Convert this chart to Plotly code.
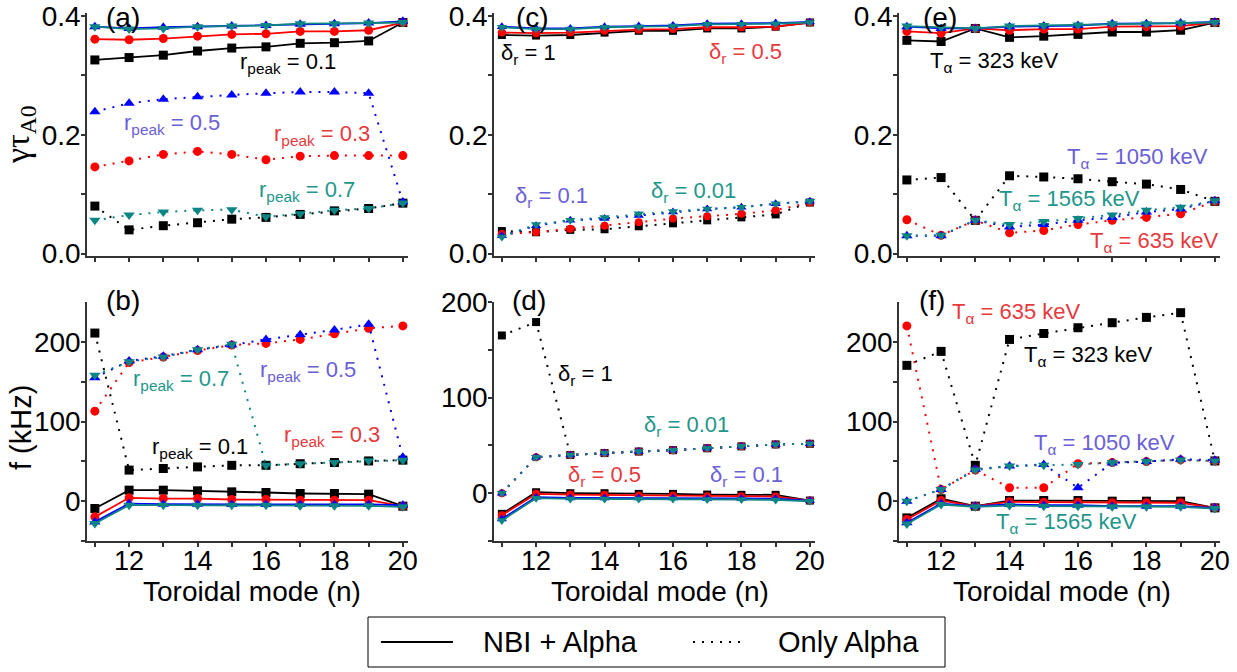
import plotly.graph_objects as go

# ---------------- data ----------------
n = list(range(11, 21))

# (a) growth rate vs r_peak
a_nbi_black = [0.326, 0.330, 0.334, 0.341, 0.346, 0.348, 0.354, 0.355, 0.358, 0.389]
a_nbi_red = [0.361, 0.360, 0.362, 0.366, 0.369, 0.370, 0.374, 0.374, 0.376, 0.389]
a_nbi_blue = [0.382, 0.379, 0.381, 0.382, 0.383, 0.384, 0.386, 0.387, 0.388, 0.391]
a_nbi_teal = [0.382, 0.378, 0.379, 0.382, 0.383, 0.384, 0.387, 0.387, 0.388, 0.389]
a_alp_black = [0.080, 0.040, 0.047, 0.052, 0.058, 0.061, 0.066, 0.072, 0.076, 0.085]
a_alp_red = [0.146, 0.156, 0.167, 0.172, 0.167, 0.158, 0.164, 0.165, 0.165, 0.165]
a_alp_blue = [0.239, 0.253, 0.260, 0.264, 0.267, 0.270, 0.272, 0.272, 0.270, 0.087]
a_alp_teal = [0.056, 0.065, 0.070, 0.073, 0.074, 0.062, 0.067, 0.073, 0.076, 0.085]

# (b) frequency vs r_peak
b_nbi_black = [-9.2, 13.8, 13.8, 13.0, 11.7, 10.9, 9.6, 9.6, 8.8, -6.3]
b_nbi_red = [-19.7, 4.2, 3.3, 3.3, 2.1, 2.1, 1.3, 1.3, 1.3, -6.3]
b_nbi_blue = [-26, -3, -3.8, -3.8, -4.2, -4.2, -4.2, -4.2, -4.2, -5]
b_nbi_teal = [-28, -5, -5, -5, -5, -5, -5.9, -5.9, -5.9, -7.1]
b_alp_black = [211, 39, 41, 43, 45, 45, 47, 48.5, 50.5, 51.5]
b_alp_red = [113, 174, 181, 189, 196, 198, 203, 210, 217, 220]
b_alp_blue = [155, 176, 182, 190, 196, 203, 209, 215, 222, 55]
b_alp_teal = [158, 175, 181, 190, 197, 45, 47, 48.5, 50.6, 51.5]

# (c) growth rate vs delta_r
c_nbi_black = [0.368, 0.367, 0.368, 0.372, 0.375, 0.375, 0.379, 0.379, 0.382, 0.389]
c_nbi_red = [0.372, 0.371, 0.372, 0.375, 0.377, 0.378, 0.381, 0.381, 0.382, 0.389]
c_nbi_blue = [0.382, 0.379, 0.379, 0.382, 0.383, 0.384, 0.387, 0.387, 0.388, 0.390]
c_nbi_teal = [0.381, 0.378, 0.378, 0.381, 0.382, 0.383, 0.386, 0.386, 0.387, 0.389]
c_alp_black = [0.038, 0.036, 0.040, 0.041, 0.046, 0.051, 0.056, 0.061, 0.066, 0.086]
c_alp_red = [0.033, 0.036, 0.042, 0.047, 0.053, 0.059, 0.063, 0.067, 0.073, 0.086]
c_alp_blue = [0.030, 0.047, 0.056, 0.059, 0.064, 0.070, 0.075, 0.078, 0.084, 0.088]
c_alp_teal = [0.028, 0.049, 0.056, 0.061, 0.067, 0.071, 0.075, 0.078, 0.084, 0.088]

# (d) frequency vs delta_r
d_nbi_black = [-21.6, 1, 0, 0, -0.7, -0.7, -1.4, -1.7, -1.7, -7.7]
d_nbi_red = [-23, -0.7, -1.4, -1.7, -2.4, -2.4, -3.1, -3.1, -3.5, -7.7]
d_nbi_blue = [-27, -4.2, -5, -5, -5, -5, -5.5, -5.5, -5.8, -7.7]
d_nbi_teal = [-28.6, -5.2, -6, -6, -6, -6, -6.6, -6.6, -7, -8.4]
d_alp_black = [165, 179, 40, 42, 43.6, 45, 47, 49, 51, 51.7]
d_alp_red = [0, 37.7, 40, 42, 43.6, 45, 47, 49, 51, 51.7]
d_alp_blue = [0, 37.7, 40, 42, 43.6, 45, 47, 49, 51, 51.7]
d_alp_teal = [0, 37.7, 40, 42, 43.6, 45, 47, 49, 51, 51.7]

# (e) growth rate vs T_alpha
e_nbi_black = [0.359, 0.357, 0.379, 0.364, 0.366, 0.369, 0.373, 0.373, 0.376, 0.389]
e_nbi_red = [0.374, 0.371, 0.379, 0.376, 0.378, 0.378, 0.382, 0.382, 0.383, 0.389]
e_nbi_blue = [0.382, 0.379, 0.379, 0.382, 0.383, 0.384, 0.387, 0.387, 0.388, 0.390]
e_nbi_teal = [0.383, 0.381, 0.379, 0.383, 0.384, 0.385, 0.387, 0.387, 0.388, 0.389]
e_alp_black = [0.124, 0.128, 0.056, 0.131, 0.129, 0.126, 0.121, 0.117, 0.108, 0.088]
e_alp_red = [0.057, 0.031, 0.056, 0.035, 0.039, 0.049, 0.056, 0.061, 0.067, 0.088]
e_alp_blue = [0.030, 0.030, 0.056, 0.045, 0.049, 0.056, 0.061, 0.070, 0.075, 0.089]
e_alp_teal = [0.030, 0.031, 0.056, 0.049, 0.054, 0.059, 0.065, 0.073, 0.078, 0.089]

# (f) frequency vs T_alpha
f_nbi_black = [-21, 3, -6.3, 0.8, 0.8, 0.8, 0, 0, 0, -8.4]
f_nbi_red = [-23, 0.8, -6.3, -0.8, -1.3, -1.3, -2, -2, -2, -8.4]
f_nbi_blue = [-27, -3, -6.3, -4.2, -5, -5, -6.3, -6.3, -6.3, -8.4]
f_nbi_teal = [-28.6, -4.2, -7, -5.5, -6.3, -6.3, -7, -7, -7, -9.3]
f_alp_black = [170.5, 188, 45, 203, 210.5, 217.7, 224, 230.7, 236.6, 50.5]
f_alp_red = [220, 14.7, 39, 16.8, 16.8, 47, 48.4, 49.7, 51.8, 50.5]
f_alp_blue = [0, 14.7, 40, 44, 46, 16.8, 48, 49.7, 52.6, 51.5]
f_alp_teal = [0, 14.7, 39, 44, 45, 46, 48.4, 49.7, 51.8, 50.5]

panel_letters = ["(a)", "(b)", "(c)", "(d)", "(e)", "(f)"]
legend_names = ["NBI + Alpha", "Only Alpha"]
x_title = "Toroidal mode (n)"

# ---------------- style ----------------
BLACK, RED, BLUE, TEAL = "#000000", "#ff0000", "#0000ff", "#0d8585"
TXT_RED, TXT_PUR, TXT_TEAL = "#e63a3e", "#6a60d6", "#23968b"
SANS = "Liberation Sans, Arial, sans-serif"
SERIF = "Liberation Serif, Times New Roman, serif"
DOT = "2px,7px"
AX = "#333333"
W, H = 1237, 672

fig = go.Figure()

series = {
    1: (a_nbi_black, a_nbi_red, a_nbi_blue, a_nbi_teal, a_alp_black, a_alp_red, a_alp_blue, a_alp_teal),
    2: (b_nbi_black, b_nbi_red, b_nbi_blue, b_nbi_teal, b_alp_black, b_alp_red, b_alp_blue, b_alp_teal),
    3: (c_nbi_black, c_nbi_red, c_nbi_blue, c_nbi_teal, c_alp_black, c_alp_red, c_alp_blue, c_alp_teal),
    4: (d_nbi_black, d_nbi_red, d_nbi_blue, d_nbi_teal, d_alp_black, d_alp_red, d_alp_blue, d_alp_teal),
    5: (e_nbi_black, e_nbi_red, e_nbi_blue, e_nbi_teal, e_alp_black, e_alp_red, e_alp_blue, e_alp_teal),
    6: (f_nbi_black, f_nbi_red, f_nbi_blue, f_nbi_teal, f_alp_black, f_alp_red, f_alp_blue, f_alp_teal),
}
colors = [BLACK, RED, BLUE, TEAL]
symbols = ["square", "circle", "triangle-up", "triangle-down"]
msize = {1: 9, 2: 9, 3: 8, 4: 8, 5: 9, 6: 9}

for k, data in series.items():
    xa = "x" if k == 1 else f"x{k}"
    ya = "y" if k == 1 else f"y{k}"
    nbi, alp = data[:4], data[4:]
    for group, dotted, name in ((alp, True, legend_names[1]), (nbi, False, legend_names[0])):
        for y, c, s in zip(group, colors, symbols):
            sz = msize[k] + (1 if "triangle" in s else 0)
            fig.add_trace(go.Scatter(
                x=n, y=y, mode="lines+markers", xaxis=xa, yaxis=ya, showlegend=False,
                name=name,
                line=dict(color=c, width=2 if dotted else 1.8, dash=DOT if dotted else "solid"),
                marker=dict(symbol=s, size=sz, color=c, line=dict(width=0)),
                hoverinfo="skip"))

# ---------------- axes ----------------
xdom_px = {1: (87, 408), 3: (494, 815), 5: (899, 1220)}
xdom_px[2], xdom_px[4], xdom_px[6] = xdom_px[1], xdom_px[3], xdom_px[5]
top_px, bot_px = (13, 256), (302, 541)

axis_common = dict(showline=True, linecolor=AX, linewidth=1.5, ticks="outside",
                   ticklen=4, tickwidth=1.5, tickcolor=AX, showgrid=False,
                   zeroline=False, automargin=False,
                   tickfont=dict(family=SANS, size=28, color="black"))
minor_common = dict(ticks="outside", ticklen=4, tickwidth=1.5, tickcolor=AX, showgrid=False)
layout = {}
for k in range(1, 7):
    xk = "xaxis" if k == 1 else f"xaxis{k}"
    yk = "yaxis" if k == 1 else f"yaxis{k}"
    top = k in (1, 3, 5)
    ypx = top_px if top else bot_px
    layout[xk] = dict(axis_common, domain=[xdom_px[k][0] / W, xdom_px[k][1] / W],
                      range=[10.77, 20.15], tickmode="linear", tick0=12, dtick=2,
                      showticklabels=not top, ticklabelstandoff=-9,
                      tickfont=dict(family=SANS, size=27, color="black"),
                      anchor="y" if k == 1 else f"y{k}",
                      minor=dict(minor_common, dtick=1, tick0=11))
    ydom = [1 - ypx[1] / H, 1 - ypx[0] / H]
    if top:
        yd = dict(range=[-0.004, 0.405], tickmode="linear", tick0=0, dtick=0.2,
                  tickformat=".1f", minor=dict(minor_common, dtick=0.1))
    else:
        yd = dict(range=[-50, 200] if k == 4 else [-50, 250], tickmode="array",
                  tickvals=[0, 100, 200], minor=dict(minor_common, tickvals=[-50, 50, 150]))
    layout[yk] = dict(axis_common, domain=ydom, anchor="x" if k == 1 else f"x{k}",
                      ticklabelstandoff=-5, **yd)

# ---------------- annotations ----------------
def px_ann(text, cx, cy, color="black", size=22, family=SANS, angle=0):
    return dict(text=text, x=cx / W, y=1 - cy / H, xref="paper", yref="paper",
                xanchor="center", yanchor="middle", showarrow=False, textangle=angle,
                font=dict(family=family, size=size, color=color))

anns = []
letter_pos = [(123, 17), (123, 300), (532, 17), (529, 300), (940, 17), (932, 300)]
for t, (cx, cy) in zip(panel_letters, letter_pos):
    anns.append(px_ann(t, cx, cy, size=28))

rp = "r<sub>peak</sub> = "
dr = "δ<sub>r</sub> = "
ta = "T<sub>α</sub> = "
labels = [
    (rp + "0.1", 288, 63, BLACK), (rp + "0.5", 172, 124, TXT_PUR),
    (rp + "0.3", 322, 135, TXT_RED), (rp + "0.7", 307, 191, TXT_TEAL),
    (rp + "0.7", 181, 380, TXT_TEAL), (rp + "0.5", 308, 371, TXT_PUR),
    (rp + "0.3", 332, 436, TXT_RED), (rp + "0.1", 200, 448, BLACK),
    (dr + "1", 528, 54, BLACK), (dr + "0.5", 745, 53, TXT_RED),
    (dr + "0.1", 551, 197, TXT_PUR), (dr + "0.01", 693, 192, TXT_TEAL),
    (dr + "1", 585, 375, BLACK), (dr + "0.01", 686, 426, TXT_TEAL),
    (dr + "0.5", 604, 476, TXT_RED), (dr + "0.1", 746, 476, TXT_PUR),
    (ta + "323 keV", 994, 62, BLACK), (ta + "1050 keV", 1137, 158, TXT_PUR),
    (ta + "1565 keV", 1069, 200, TXT_TEAL), (ta + "635 keV", 1154, 242, TXT_RED),
    (ta + "635 keV", 1016, 313, TXT_RED), (ta + "323 keV", 1088, 356, BLACK),
    (ta + "1050 keV", 1104, 444, TXT_PUR), (ta + "1565 keV", 1066, 523, TXT_TEAL),
]
for t, cx, cy, c in labels:
    anns.append(px_ann(t, cx, cy, color=c))

for cx in (252, 660, 1062):
    anns.append(px_ann(x_title, cx, 591, size=28))
anns.append(px_ann("γτ<sub>A0</sub>", 20, 135, size=34, family=SERIF, angle=-90))
anns.append(px_ann("f (kHz)", 21, 428, size=29, angle=-90))

# legend (drawn as a framed key below the panels)
anns.append(px_ann(legend_names[0], 560, 642, size=29))
anns.append(px_ann(legend_names[1], 848, 642, size=29))
shapes = [
    dict(type="rect", xref="paper", yref="paper", x0=368 / W, x1=945 / W,
         y0=1 - 667 / H, y1=1 - 617 / H, line=dict(color="black", width=1)),
    dict(type="line", xref="paper", yref="paper", x0=381 / W, x1=453 / W,
         y0=1 - 642 / H, y1=1 - 642 / H, line=dict(color="black", width=2)),
    dict(type="line", xref="paper", yref="paper", x0=693 / W, x1=745 / W,
         y0=1 - 642 / H, y1=1 - 642 / H, line=dict(color="black", width=2, dash=DOT)),
]

fig.update_layout(
    width=W, height=H, margin=dict(l=0, r=0, t=0, b=0, autoexpand=False), autosize=False,
    paper_bgcolor="white", plot_bgcolor="white", annotations=anns, shapes=shapes,
    showlegend=False,
    **layout,
)

fig.write_html("out.html")
